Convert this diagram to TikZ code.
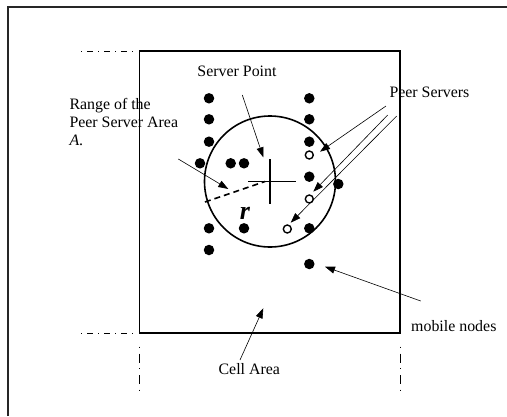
\documentclass[tikz,border=0pt]{standalone}
\usepackage{fontspec}
\setmainfont{Liberation Serif}
\usetikzlibrary{arrows.meta}
\begin{document}
\begin{tikzpicture}[x=1pt,y=-1pt,
  pointer/.style={-{Triangle[length=10pt,width=7pt]}, line width=0.6pt},
  nodedot/.style={circle, fill=black, inner sep=0pt, minimum size=10.5pt},
  peerdot/.style={circle, draw=black, fill=white, line width=1.4pt, inner sep=0pt, minimum size=8pt},
  labeltext/.style={inner sep=0pt, font=\fontsize{15.9}{18}\selectfont},
  boundh/.style={line width=0.8pt, dash pattern=on 1pt off 5pt on 6pt off 5pt},
  boundv/.style={line width=0.8pt, dash pattern=on 1pt off 6pt on 9pt off 5.6pt}]
\useasboundingbox (0,0) rectangle (507,416);

% page frame (top and left edges)
\draw[line width=2pt, black!85] (8,416) -- (8,7) -- (507,7);

% cell area
\coordinate (c1) at (139.3,51);
\coordinate (c2) at (400,51);
\coordinate (c3) at (400,333);
\coordinate (c4) at (139.3,333);
\draw[line width=1.6pt] (c1) -- (c2) -- (c3) -- (c4) -- cycle;

% neighbouring cells continue beyond the border
\coordinate (t0) at (81,51);
\coordinate (b0) at (81,333);
\coordinate (l1) at (139.3,346.5);
\coordinate (l2) at (139.3,392);
\coordinate (r1) at (400,346.5);
\coordinate (r2) at (400,392);
\draw[boundh] (t0) -- ++(52,0);
\draw[boundh] (b0) -- ++(52,0);
\draw[boundv] (l1) -- (l2);
\draw[boundv] (r1) -- (r2);

% peer server area
\coordinate (sp) at (270,181.5);
\draw[line width=1.6pt] (sp) circle[radius=65.5];
\draw[line width=1.6pt] (248,181.5) -- (296,181.5);
\draw[line width=1.6pt] (270,159) -- (270,203.5);
\coordinate (rim) at (205,202);
\draw[line width=1.6pt, dash pattern=on 6pt off 4pt] (rim) -- (265,181.5);
\node[inner sep=0pt, font=\fontsize{26}{28}\selectfont\bfseries\itshape] (rlab) at (245,213) {r};

% mobile nodes
\foreach \n/\p in {a1/{209,98.3}, a2/{209,119.3}, a3/{209,141.7}, a4/{209,228.3}, a5/{209,250},
                   b1/{200,163.3}, b2/{230.7,163.3}, b3/{244,163.3}, b4/{244,228.3},
                   d1/{309.3,98.3}, d2/{309.3,119.3}, d3/{309.3,141.7}, d4/{309.3,176.7},
                   d5/{309.3,228.3}, d6/{309.3,264}, e1/{338.3,184}}
  \node[nodedot] (\n) at (\p) {};

% peer servers
\node[peerdot] (p1) at (309.3,155) {};
\node[peerdot] (p2) at (309.3,199) {};
\node[peerdot] (p3) at (287.3,229) {};

% labels
\node[labeltext, anchor=base] (lsp) at (237,76) {Server Point};
\node[labeltext, anchor=base west] (lr1) at (69.3,109.3) {Range of the};
\node[labeltext, anchor=base west] (lr2) at (69.3,127.5) {Peer Server Area};
\node[labeltext, anchor=base west] (lr3) at (69.3,145.5) {\textit{A}.};
\node[labeltext, anchor=base west] (lps) at (389.3,97.3) {Peer Servers};
\node[labeltext, anchor=base west] (lmn) at (411,331.7) {mobile nodes};
\node[labeltext, anchor=base] (lca) at (249.3,374.3) {Cell Area};

% pointers
\coordinate (s1) at (242.3,95);   \coordinate (e1t) at (263.3,157.3);
\coordinate (s2) at (178.3,159);  \coordinate (e2t) at (228.3,189);
\coordinate (s3) at (386,106);    \coordinate (e3t) at (320,151.7);
\coordinate (s4) at (387.7,115);  \coordinate (e4t) at (313.3,191.7);
\coordinate (s5) at (396.7,116);  \coordinate (e5t) at (290.7,222.7);
\coordinate (s6) at (420.7,301);  \coordinate (e6t) at (325,266.7);
\coordinate (s7) at (240,360);    \coordinate (e7t) at (263.3,308.3);
\foreach \s/\e in {s1/e1t, s2/e2t, s3/e3t, s4/e4t, s5/e5t, s6/e6t, s7/e7t}
  \draw[pointer] (\s) -- (\e);
\end{tikzpicture}
\end{document}
